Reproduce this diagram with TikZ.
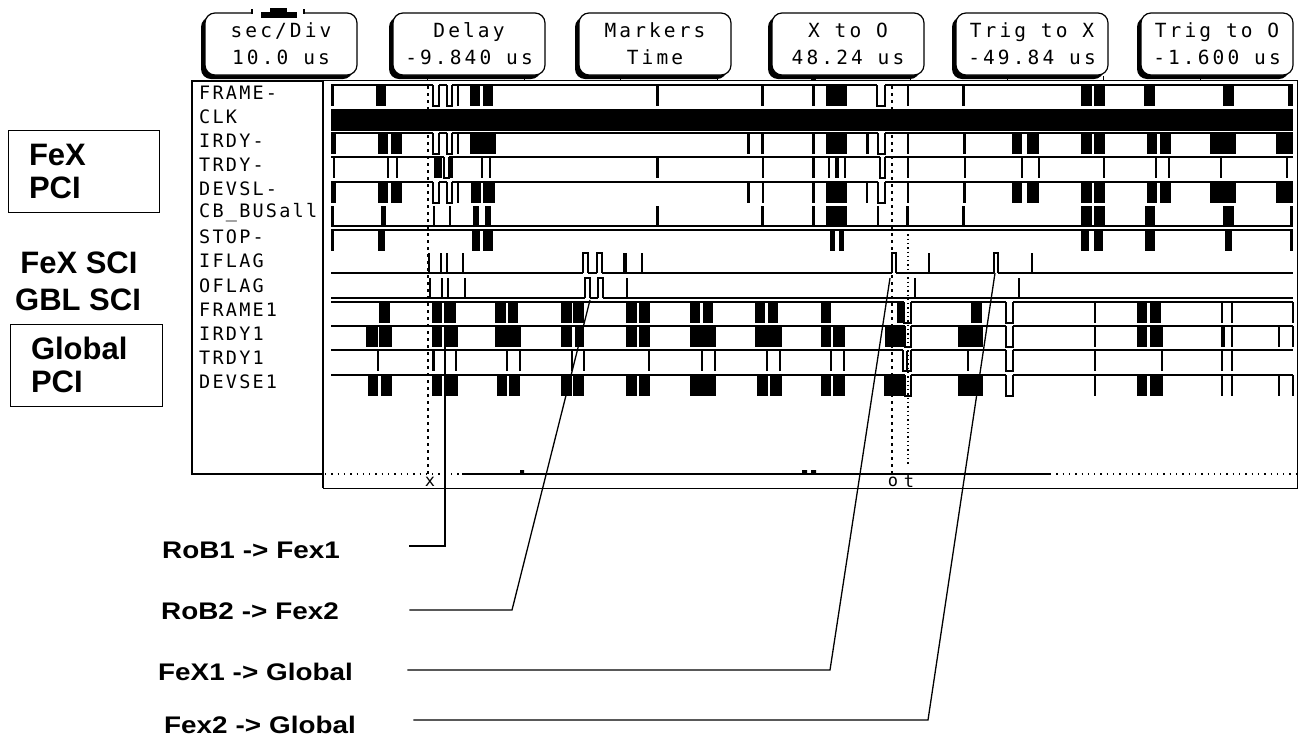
\documentclass[tikz,border=0pt]{standalone}
\usepackage{fontspec}
\setmainfont{Liberation Sans}
\newfontfamily\scopefont{DejaVu Sans Mono}[LetterSpace=16]
\newfontfamily\labelfont{DejaVu Sans Mono}[LetterSpace=12]
\newfontfamily\notefont{Liberation Sans}[FakeStretch=1.16]
\usetikzlibrary{positioning,shadows}

\tikzset{
  panel/.style={draw=black, line width=1.2pt},
  softkey/.style={
    draw=black,
    fill=white,
    rounded corners=10pt,
    line width=1.2pt,
    minimum width=152pt,
    minimum height=62pt,
    align=center,
    inner sep=0pt,
    font=\scopefont\fontsize{19.5}{27}\selectfont,
    drop shadow={shadow xshift=-4pt, shadow yshift=-4pt, fill=black, opacity=1}
  },
  siglabel/.style={anchor=west, inner sep=0pt, font=\labelfont\fontsize{18.5}{20}\selectfont},
  cursortext/.style={inner sep=0pt, font=\scopefont\fontsize{17}{17}\selectfont},
  trace/.style={line width=1.2pt},
  cursorline/.style={line width=1.6pt, dash pattern=on 3pt off 4pt},
  trigline/.style={line width=1.3pt, dash pattern=on 1.3pt off 3pt},
  callout/.style={line width=1.3pt},
  note/.style={anchor=west, inner sep=0pt, align=left,
    font=\notefont\bfseries\fontsize{24}{26}\selectfont},
  boxnote/.style={draw, line width=1pt, inner xsep=21pt, align=left,
    font=\bfseries\fontsize{31}{33}\selectfont}
}

% active-low row: top line, filled bursts
\newcommand\lowrow[2]{%
  \draw[trace] (331,#1) -- (1293,#1);
  \foreach \a/\b in {#2} \fill (\a,#1) rectangle (\b,#1+21);
}
\newcommand\openlow[2]{%
  \foreach \a/\b in {#2} {\fill[white] (\a,#1-1.2) rectangle (\b,#1+1.2);
    \draw[trace] (\a,#1) |- (\b,#1+21) -- (\b,#1);}
}
% active-high row: bottom line, pulses upwards
\newcommand\highrow[2]{%
  \draw[line width=2.2pt] (331,#1) -- (1293,#1);
  \foreach \a/\b in {#2} \fill (\a,#1) rectangle (\b,#1-20);
}
\newcommand\openhigh[2]{%
  \foreach \a/\b in {#2} {\fill[white] (\a,#1-1.5) rectangle (\b,#1+1.5);
    \draw[trace] (\a,#1) |- (\b,#1-20) -- (\b,#1);}
}

\begin{document}
\begin{tikzpicture}[x=1pt,y=-1pt]
  \useasboundingbox (0,0) rectangle (1300,740);

  % softkeys
  \node[softkey] (secdiv)  at (281,44)  {sec/Div\\10.0 us};
  \node[softkey] (delay)   at (469,44)  {Delay\\-9.840 us};
  \node[softkey] (markers) at (655,44)  {Markers\\Time};
  \node[softkey] (xtoo)    at (848,44)  {X to O\\48.24 us};
  \node[softkey] (trigx)   at (1032,44) {Trig to X\\-49.84 us};
  \node[softkey] (trigo)   at (1217,44) {Trig to O\\ -1.600 us};
  \fill[white] (252,10) rectangle (304,16);
  \draw[line width=1.2pt] (252,9) -- (252,14) (304,9) -- (304,14);
  \fill (261,12) rectangle (297,18);
  \fill (270,8) rectangle (287,13);

  % frames
  \draw[panel] (192,81) rectangle (323,474);
  \draw[line width=1pt] (323,80) rectangle (1297,488);
  \draw[line width=2.4pt] (323,80) -- (323,488);
  \foreach \k in {1,...,9} \draw[line width=1pt] (331+96.6*\k,80) -- ++(0,-4);
  \fill (811,76) rectangle (816,81);

  % signal names
  \foreach \s [count=\i from 0] in {FRAME-,CLK,IRDY-,TRDY-,DEVSL-,CB\_BUSall,STOP-,
      IFLAG,OFLAG,FRAME1,IRDY1,TRDY1,DEVSE1}
    \node[siglabel] (sig\i) at (199,92.5+24.1*\i) {\s};

  % waveforms
  \lowrow{85}{331/334,376/386,457/459,470/480,483/493,656/658.5,761/763.5,812/814.5,
    826/847,907/909,962/964.5,1081/1092,1094/1105,1144/1155,1223/1234,1288/1293}
  \openlow{85}{433/439,447/452,877/885}
  \fill (331,109) rectangle (1293,131);
  \lowrow{133}{331/336,378/388,391/402,457/459,470/496,747/750,761/764,812/814.5,826/847,
    866/869,907/909,963/966,1012/1022,1027/1039,1081/1092,1094/1105,1147/1157,
    1160/1171,1210/1236,1276/1293}
  \openlow{133}{433/439,447/452,878/885}
  \lowrow{157}{333/335,387/389,396/398,434/442,450/453,481/483,489/491,656/658.5,762/764,
    812/814.5,828/830,835/839,844/846,907/909,964/966,1021/1023,1038/1040,1103/1105,
    1155/1157,1168/1170,1220/1222,1286/1288}
  \openlow{157}{444/449,880/885}
  \lowrow{182}{331/336,378/388,391/402,457/459,471/481,483/495,747/750,762/764,812/814.5,
    826/847,866/868,907/909,963/966,1012/1022,1027/1039,1081/1092,1094/1105,1147/1157,
    1160/1171,1210/1236,1276/1293}
  \openlow{182}{433/439,447/452,878/885}
  \highrow{226}{331/334,381/386,433/435,449/451,473/479,485/491,656/658.5,761/763.5,
    812/814.5,826/847,877/879,906/909,962/964.5,1081/1092,1094/1105,1145/1155,
    1223/1234,1290/1293}
  \lowrow{230}{331/334,378/385,472/480,483/493,830/835,839/844,1081/1089,1094/1103,
    1145/1155,1225/1232,1290/1293}
  \highrow{273}{428/429.5,440/442,446/448,462/464,623/627,641/643,928/930,1031/1033}
  \openhigh{273}{583/588,597/602,892/896,994/998}
  \highrow{298}{429/431,441/443,447/449,464/466,626/628,914/916,1018/1020}
  \openhigh{298}{585/590,598/603}
  \lowrow{302}{379/390,432/442,444/456,495/506,508/518,561/572,573/584,626/637,639/650,
    690/700,703/713,755/765,768/778,821/831,897/904,971/982,1094/1096,1137/1147,
    1150/1161,1221/1223,1231/1233,1292/1294}
  \openlow{302}{904/911,1006/1013}
  \lowrow{326}{366/378,379/392,432/442,444/458,495/521,561/572,575/584,626/637,639/650,
    690/716,755/782,821/831,833/845,885/905,958/983,1094/1096,1137/1147,1150/1163,
    1221/1225,1231/1233,1278/1280,1292/1294}
  \openlow{326}{905/911,1006/1013}
  \lowrow{350}{377/379,432/435,455/457,506/508,519/521,571/573,583/585,648/650,701/703,
    714/716,766/768,779/781,830/832,843/845,906/908,967/969,1094/1096,1161/1163,
    1221/1223,1231/1233}
  \openlow{350}{903/911,1006/1013}
  \lowrow{375}{368/378,381/392,432/442,446/458,497/507,509/520,561/572,573/584,626/637,
    639/650,690/716,757/768,770/782,821/831,833/845,884/905,958/983,1094/1096,
    1137/1147,1150/1163,1221/1223,1231/1233,1278/1280,1292/1294}
  \openlow{375}{905/911,1006/1013}

  % cursors and time window
  \draw[cursorline] (428,86) -- (428,474);
  \draw[cursorline] (892,86) -- (892,474);
  \draw[trigline] (908,230) -- (908,466);
  \draw[line width=1.2pt, dash pattern=on 1.3pt off 5pt] (325,474) -- (462,474);
  \draw[line width=1.2pt] (462,474) -- (1050,474);
  \draw[line width=1.2pt, dash pattern=on 1.3pt off 5pt] (1050,474) -- (1297,474);
  \fill (520,470) rectangle (524,473) (802,470) rectangle (807,473)
    (811,470) rectangle (816,473);
  \node[cursortext] (xlab) at (430,482) {x};
  \node[cursortext] (olab) at (893,482) {o};
  \node[cursortext] (tlab) at (909,482) {t};

  % notes on the left
  \node[boxnote, minimum width=151pt, minimum height=82pt, text width=109pt]
    (fexpci) at (83.5,171) {FeX\\PCI};
  \node[anchor=west, inner sep=0pt, align=left,
    font=\bfseries\fontsize{31}{37}\selectfont] (sci) at (15,281) {\,FeX SCI\\GBL SCI};
  \node[boxnote, minimum width=152pt, minimum height=82pt, text width=110pt]
    (glbpci) at (86,365) {Global\\PCI};

  % callouts
  \coordinate (tip1) at (445,326);
  \coordinate (tip2) at (590,300);
  \coordinate (tip3) at (890,278);
  \coordinate (tip4) at (995,273);
  \node[note, text width=247pt] (rob1) at (162,550) {RoB1 -> Fex1};
  \node[note, text width=248pt] (rob2) at (161,611) {RoB2 -> Fex2};
  \node[note, text width=249pt] (fex1) at (158,672) {FeX1 -> Global};
  \node[note, text width=249pt] (fex2) at (164,725) {Fex2 -> Global};
  \draw[callout] (rob1.east |- 0,546) -| (tip1);
  \draw[callout] (rob2.east |- 0,610) -- (512,610) -- (tip2);
  \draw[callout] (fex1.east |- 0,670) -- (830,670) -- (tip3);
  \draw[callout] (fex2.east |- 0,720) -- (928,720) -- (tip4);
\end{tikzpicture}
\end{document}
